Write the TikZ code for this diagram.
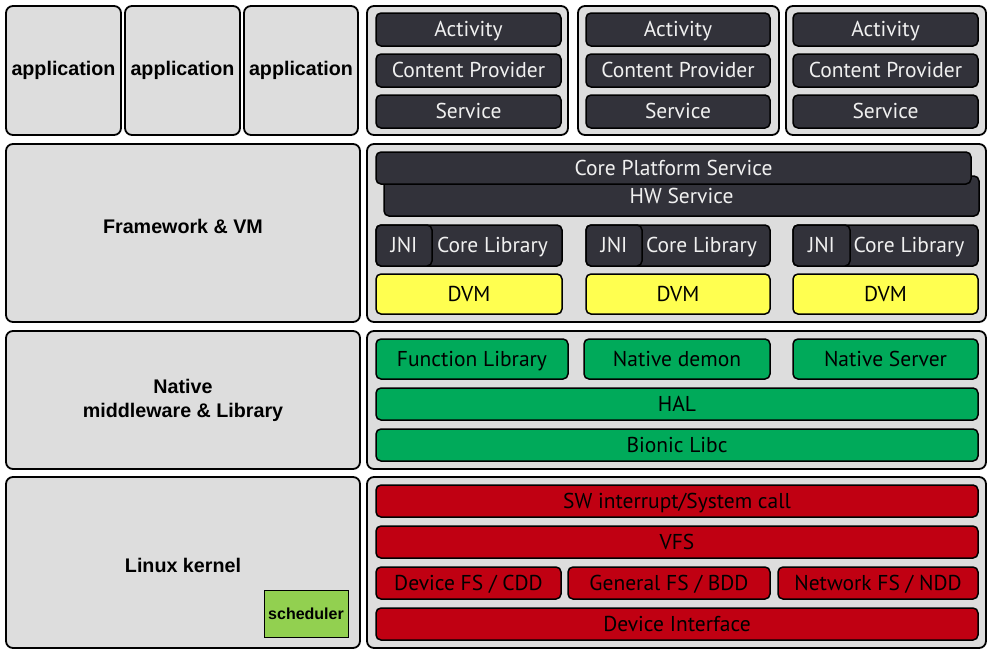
\documentclass[tikz,border=0pt]{standalone}
\usepackage{fontspec}
\setmainfont{PT Sans}
\newfontfamily\lblfont{Liberation Sans}
\definecolor{contfill}{RGB}{221,221,221}
\definecolor{darkbox}{RGB}{50,50,58}
\definecolor{dvmy}{RGB}{255,255,80}
\definecolor{natg}{RGB}{0,170,90}
\definecolor{kred}{RGB}{192,0,18}
\definecolor{schedg}{RGB}{146,208,80}
\definecolor{lighttext}{RGB}{240,240,240}
\tikzset{
  base/.style={draw=black, line width=1.5pt, rounded corners=5pt, inner sep=0pt},
  cont/.style={base, fill=contfill, line width=1.8pt, rounded corners=7pt},
  lbl/.style={cont, font=\lblfont\bfseries\fontsize{19.7}{24}\selectfont, align=center},
  boxtext/.style={font=\fontsize{21.5}{24}\selectfont, text height=14pt, text depth=0pt},
  dark/.style={base, boxtext, fill=darkbox, text=lighttext},
  yel/.style={base, boxtext, fill=dvmy},
  grn/.style={base, boxtext, fill=natg},
  red/.style={base, boxtext, fill=kred},
  sched/.style={draw=black, line width=1pt, fill=schedg, inner sep=0pt,
    font=\lblfont\bfseries\fontsize{16}{18}\selectfont}
}
\newcommand\bx[7]{\node[#6, minimum width={#4pt-#2pt}, minimum height={#5pt-#3pt}] (#1) at ({(#2+#4)/2},{(#3+#5)/2}) {#7};}
\begin{document}
\begin{tikzpicture}[x=1pt,y=-1pt]
\useasboundingbox (0,0) rectangle (991,653);
% left column
\bx{appA}{6}{6}{121}{135}{lbl}{application}
\bx{appB}{125}{6}{240}{135}{lbl}{application}
\bx{appC}{244}{6}{358}{135}{lbl}{application}
\bx{fw}{6}{144}{360}{322}{cont, label={[lbl, draw=none, fill=none, yshift=7pt]center:Framework \& VM}}{}
\bx{nat}{6}{331}{360}{469}{lbl}{Native\\middleware \& Library}
\bx{kern}{6}{477}{360}{648}{cont, label={[lbl, draw=none, fill=none, yshift=-3pt]center:Linux kernel}}{}
\bx{sched}{264}{590}{348}{637}{sched}{scheduler}
% top containers
\bx{cA}{367}{6}{568}{135}{cont}{}
\bx{cB}{578}{6}{779}{135}{cont}{}
\bx{cC}{786}{6}{986}{135}{cont}{}
\foreach \n/\xa/\xb in {A/376/561, B/586/770, C/793/978}{
  \bx{act\n}{\xa}{13}{\xb}{46}{dark}{Activity}
  \bx{cp\n}{\xa}{54}{\xb}{87}{dark}{Content Provider}
  \bx{svc\n}{\xa}{95}{\xb}{128}{dark}{Service}
}
% framework
\bx{fwc}{367}{144}{986}{322}{cont}{}
\bx{hw}{384}{176}{979}{216}{dark}{HW Service}
\bx{cps}{376}{152}{971}{184}{dark}{Core Platform Service}
\foreach \n/\xa/\xb/\xj in {A/376/562/432, B/586/770/642, C/793/978/850}{
  \bx{cl\n}{\xa}{225}{\xb}{266}{dark}{\hspace*{47pt}Core Library}
  \bx{jni\n}{\xa}{225}{\xj}{266}{dark}{JNI}
  \bx{dvm\n}{\xa}{274}{\xb}{314}{yel}{DVM}
}
% native
\bx{natc}{367}{331}{986}{469}{cont}{}
\bx{funclib}{376}{339}{568}{379}{grn}{Function Library}
\bx{demon}{584}{339}{770}{379}{grn}{Native demon}
\bx{server}{793}{339}{978}{379}{grn}{Native Server}
\bx{hal}{376}{388}{978}{420}{grn}{HAL}
\bx{bionic}{376}{429}{978}{461}{grn}{Bionic Libc}
% kernel
\bx{kernc}{367}{477}{986}{648}{cont}{}
\bx{swi}{376}{485}{978}{517}{red}{SW interrupt/System call}
\bx{vfs}{376}{526}{978}{558}{red}{VFS}
\bx{devfs}{376}{567}{561}{599}{red}{Device FS / CDD}
\bx{genfs}{568}{567}{770}{599}{red}{General FS / BDD}
\bx{netfs}{778}{567}{978}{599}{red}{Network FS / NDD}
\bx{devif}{376}{608}{978}{640}{red}{Device Interface}
\end{tikzpicture}
\end{document}
